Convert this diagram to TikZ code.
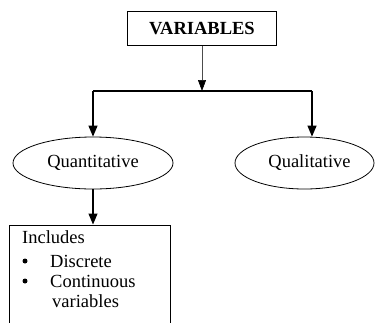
\documentclass[tikz,border=0pt]{standalone}
\usepackage{fontspec}
\setmainfont{Liberation Serif}
\usetikzlibrary{shapes.geometric,arrows.meta}
\begin{document}
\begin{tikzpicture}[x=1pt,y=1pt,
  every node/.style={font=\fontsize{18.5}{20}\selectfont},
  boxnode/.style={draw, line width=0.9pt, inner sep=0pt},
  ovalnode/.style={draw, ellipse, line width=0.8pt, inner sep=0pt},
  txt/.style={inner sep=0pt, anchor=base west},
  bul/.style={circle, fill=black, inner sep=0pt, minimum size=5pt},
  link/.style={line width=1.2pt},
  arr/.style={line width=1.2pt, -{Triangle[length=11pt,width=9pt]}},
  thinarr/.style={line width=0.6pt, draw=black!70, -{Triangle[length=11pt,width=8pt,color=black]}}
]
\useasboundingbox (0,0) rectangle (377,-322);
\clip (0,0) rectangle (377,-322);
\fill[white] (0,0) rectangle (377,-322);

\node[boxnode, minimum width=149pt, minimum height=34pt, font=\fontsize{18.5}{20}\selectfont\bfseries] (var) at (202,-28.5) {VARIABLES};

\coordinate (jm) at (202,-91);
\coordinate (jl) at (93,-91);
\coordinate (jr) at (312,-91);

\node[ovalnode, minimum width=160pt, minimum height=52pt] (quan) at (93,-163) {Quantitative};
\node[ovalnode, minimum width=139pt, minimum height=52pt] (qual) at (304.5,-163) {\hspace*{10pt}Qualitative};

\node[boxnode, minimum width=161pt, minimum height=130pt, anchor=north] (inc) at (90,-224.5) {};

\node[txt] (t1) at (22,-243) {Includes};
\node[bul] (b1) at (25,-261) {};
\node[txt] (t2) at (50,-267) {Discrete};
\node[bul] (b2) at (25,-281) {};
\node[txt] (t3) at (50,-287) {Continuous};
\node[txt] (t4) at (52,-307) {variables};

\draw[thinarr] (var.south) -- (jm);
\draw[link] (jl) -- (jr);
\draw[arr] (jl) -- (quan.north);
\draw[arr] (jr) -- (jr |- qual.north);
\draw[arr] (quan.south) -- (inc.north -| quan.south);
\end{tikzpicture}
\end{document}
